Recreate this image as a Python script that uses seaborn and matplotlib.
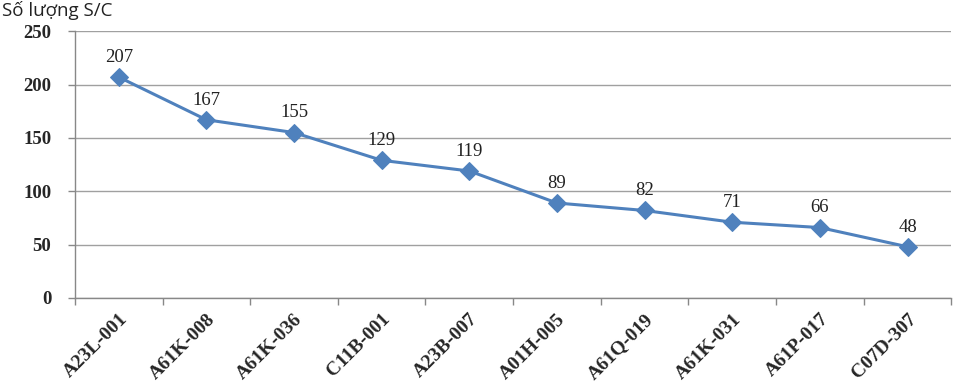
import matplotlib
matplotlib.use("Agg")
import matplotlib.pyplot as plt
import numpy as np
import pandas as pd
import seaborn as sns

codes = ["A23L-001", "A61K-008", "A61K-036", "C11B-001", "A23B-007",
         "A01H-005", "A61Q-019", "A61K-031", "A61P-017", "C07D-307"]
counts = [207, 167, 155, 129, 119, 89, 82, 71, 66, 48]
y_ticks = [0, 50, 100, 150, 200, 250]

df = pd.DataFrame({"code": codes, "count": counts, "pos": np.arange(len(codes))})

sns.set_theme(style="white")
plt.rcParams["font.family"] = ["Liberation Serif", "DejaVu Serif"]

fig = plt.figure(figsize=(9.6, 3.85), dpi=100)
ax = fig.add_axes([0.078, 0.226, 0.913, 0.693])

line_color = "#4F81BD"
sns.lineplot(data=df, x="pos", y="count", ax=ax, color=line_color,
             linewidth=2.2, marker="D", markersize=9, markeredgecolor=line_color)

for x, v in zip(df["pos"], df["count"]):
    ax.annotate(str(v), (x, v), xytext=(0, 8), textcoords="offset points",
                ha="center", va="bottom", fontsize=13.5, color="#222222")

ax.set_xlim(-0.5, len(codes) - 0.5)
ax.set_ylim(0, 250)
ax.set_yticks(y_ticks)
ax.set_yticklabels([str(t) for t in y_ticks], fontsize=13.5, fontweight="bold")
ax.yaxis.grid(True, color="#A0A0A0", linewidth=1)
ax.set_axisbelow(True)

ax.set_xticks(df["pos"])
ax.set_xticklabels(codes, rotation=45, ha="right", rotation_mode="anchor",
                   fontsize=14, fontweight="bold")
ax.tick_params(axis="x", which="major", length=0, pad=9)
ax.set_xticks(np.arange(-0.5, len(codes), 1.0), minor=True)
ax.tick_params(axis="x", which="minor", length=5, color="#888888", width=1, bottom=True)
ax.tick_params(axis="y", length=5, color="#888888", width=1, left=True, pad=12)

for side in ["top", "right"]:
    ax.spines[side].set_visible(False)
for side in ["left", "bottom"]:
    ax.spines[side].set_color("#888888")
    ax.spines[side].set_linewidth(1)

ax.set_xlabel("")
ax.set_ylabel("")
fig.text(0.002, 0.998, "Số lượng S/C", fontsize=13.5, family=["Open Sans", "DejaVu Sans"],
         ha="left", va="top", color="#222222")

fig.savefig("out.png", dpi=100)
